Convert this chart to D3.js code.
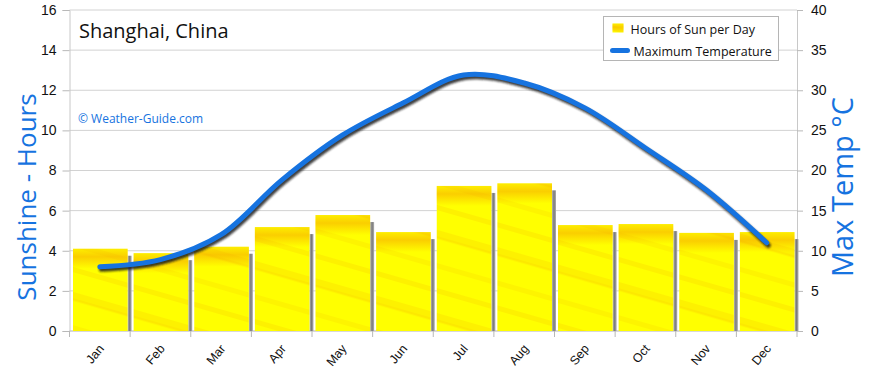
<!DOCTYPE html>
<html>
<head>
<meta charset="utf-8">
<script src="https://cdn.jsdelivr.net/npm/d3@7"></script>
<style>
  body { margin: 0; background: #fff; }
  svg { display: block; font-family: "Open Sans", "DejaVu Sans", sans-serif; }
</style>
</head>
<body>
<div id="chart"></div>
<script>
// Data
const months = ["Jan", "Feb", "Mar", "Apr", "May", "Jun", "Jul", "Aug", "Sep", "Oct", "Nov", "Dec"];
const sunHours = [4.1, 3.88, 4.2, 5.18, 5.78, 4.93, 7.23, 7.36, 5.28, 5.33, 4.89, 4.93];
const maxTemp = [8.0, 8.9, 12.0, 18.8, 24.4, 28.4, 31.9, 30.9, 27.8, 22.8, 17.6, 11.0];
const hourTicks = [0, 2, 4, 6, 8, 10, 12, 14, 16];
const tempTicks = [0, 5, 10, 15, 20, 25, 30, 35, 40];

const W = 870, H = 371;
const margin = {top: 10, right: 73, bottom: 40, left: 69.5};
const width = W - margin.left - margin.right,
    height = H - margin.top - margin.bottom;

const blue = "#1673e0";

const svg = d3.select("#chart")
    .append("svg")
    .attr("width", W)
    .attr("height", H);

const defs = svg.append("defs");

// streaky yellow texture for the bars
const pat = defs.append("pattern")
    .attr("id", "sun")
    .attr("patternUnits", "userSpaceOnUse")
    .attr("width", 400)
    .attr("height", 80)
    .attr("patternTransform", "rotate(16)");
pat.append("rect").attr("width", 400).attr("height", 80).attr("fill", "#ffff00");
[[6, 5, 0.16], [30, 8, 0.16], [36, 3, 0.1], [62, 5, 0.12]].forEach(s => {
    pat.append("rect")
        .attr("y", s[0]).attr("width", 400).attr("height", s[1])
        .attr("fill", "#f5a800").attr("opacity", s[2]);
});

const topGrad = defs.append("linearGradient")
    .attr("id", "topband").attr("x1", 0).attr("x2", 0).attr("y1", 0).attr("y2", 1);
topGrad.append("stop").attr("offset", "0%").attr("stop-color", "#f6a600").attr("stop-opacity", 0.2);
topGrad.append("stop").attr("offset", "40%").attr("stop-color", "#f6a600").attr("stop-opacity", 0.55);
topGrad.append("stop").attr("offset", "100%").attr("stop-color", "#f6a600").attr("stop-opacity", 0);

const shadowGrad = defs.append("linearGradient")
    .attr("id", "barshadow").attr("x1", 0).attr("x2", 1).attr("y1", 0).attr("y2", 0);
shadowGrad.append("stop").attr("offset", "0%").attr("stop-color", "#b5b5b5");
shadowGrad.append("stop").attr("offset", "50%").attr("stop-color", "#7a7a7a");
shadowGrad.append("stop").attr("offset", "100%").attr("stop-color", "#b0b0b0");

defs.append("filter").attr("id", "blur")
    .append("feGaussianBlur").attr("stdDeviation", 1);

const g = svg.append("g")
    .attr("transform", `translate(${margin.left},${margin.top})`);

// Scales
const xScale = d3.scaleBand()
    .domain(months)
    .range([0, width]);

const yHours = d3.scaleLinear()
    .domain([0, 16])
    .range([height, 0]);

const yTemp = d3.scaleLinear()
    .domain([0, 40])
    .range([height, 0]);

// Grid lines
g.append("g")
    .selectAll("line")
    .data(hourTicks)
    .enter().append("line")
    .attr("x1", 0).attr("x2", width)
    .attr("y1", d => yHours(d)).attr("y2", d => yHours(d))
    .attr("stroke", "#d2d2d2");

// Left axis
const leftAxis = g.append("g")
    .call(d3.axisLeft(yHours).tickValues(hourTicks).tickSize(7).tickPadding(6));
// Right axis
const rightAxis = g.append("g")
    .attr("transform", `translate(${width},0)`)
    .call(d3.axisRight(yTemp).tickValues(tempTicks).tickSize(6).tickPadding(8));
// Bottom axis
const bottomAxis = g.append("g")
    .attr("transform", `translate(0,${height})`)
    .call(d3.axisBottom(xScale).tickSize(0).tickPadding(0));

[leftAxis, rightAxis, bottomAxis].forEach(a => {
    a.select(".domain").attr("stroke", "#c8c8c8");
    a.selectAll(".tick line").attr("stroke", "#b8b8b8");
    a.selectAll("text").attr("fill", "#111").style("font-size", "14px");
});
bottomAxis.select(".domain").attr("d", `M0,0H${width}`);

// Month tick marks at band edges
g.append("g")
    .selectAll("line")
    .data(months.concat(["end"]))
    .enter().append("line")
    .attr("x1", (d, i) => i * xScale.step()).attr("x2", (d, i) => i * xScale.step())
    .attr("y1", height).attr("y2", height + 6)
    .attr("stroke", "#b8b8b8");

bottomAxis.selectAll(".tick text")
    .style("font-size", "12.5px")
    .attr("text-anchor", "end")
    .attr("dy", 0)
    .attr("transform", "translate(5,18) rotate(-50)");

// Bars
const barX = d => xScale(d) + 3.5;
const barW = xScale.bandwidth() - 6;

g.append("g")
    .selectAll("rect")
    .data(months)
    .enter().append("rect")
    .attr("x", d => barX(d) + barW)
    .attr("y", (d, i) => yHours(sunHours[i]) + 7)
    .attr("width", 4)
    .attr("height", (d, i) => height - yHours(sunHours[i]) - 7)
    .attr("fill", "url(#barshadow)");

g.append("g")
    .selectAll("rect")
    .data(months)
    .enter().append("rect")
    .attr("x", barX)
    .attr("y", (d, i) => yHours(sunHours[i]))
    .attr("width", barW)
    .attr("height", (d, i) => height - yHours(sunHours[i]))
    .attr("fill", "url(#sun)");

g.append("g")
    .selectAll("rect")
    .data(months)
    .enter().append("rect")
    .attr("x", barX)
    .attr("y", (d, i) => yHours(sunHours[i]))
    .attr("width", barW)
    .attr("height", 20)
    .attr("fill", "url(#topband)");

// Temperature line
const line = d3.line()
    .x((d, i) => xScale(months[i]) + xScale.bandwidth() / 2)
    .y(d => yTemp(d))
    .curve(d3.curveCatmullRom.alpha(0.5));

g.append("path")
    .datum(maxTemp)
    .attr("d", line)
    .attr("transform", "translate(1.5,2.5)")
    .attr("fill", "none")
    .attr("stroke", "#1a1a1a")
    .attr("stroke-width", 5)
    .attr("stroke-linecap", "round")
    .attr("opacity", 0.85)
    .attr("filter", "url(#blur)");

g.append("path")
    .datum(maxTemp)
    .attr("d", line)
    .attr("fill", "none")
    .attr("stroke", blue)
    .attr("stroke-width", 5)
    .attr("stroke-linecap", "round");

// Title and credit
svg.append("text")
    .attr("x", 79)
    .attr("y", 38)
    .style("font-size", "20px")
    .attr("fill", "#111")
    .text("Shanghai, China");

svg.append("text")
    .attr("x", 78)
    .attr("y", 123)
    .style("font-size", "12px")
    .attr("fill", blue)
    .text("© Weather-Guide.com");

// Axis titles
svg.append("text")
    .attr("transform", "rotate(-90)")
    .attr("x", -197)
    .attr("y", 36)
    .attr("text-anchor", "middle")
    .style("font-size", "26px")
    .attr("fill", blue)
    .text("Sunshine - Hours");

svg.append("text")
    .attr("transform", "rotate(-90)")
    .attr("x", -187)
    .attr("y", 853)
    .attr("text-anchor", "middle")
    .style("font-size", "29px")
    .attr("fill", blue)
    .text("Max Temp °C");

// Legend
const legend = svg.append("g")
    .attr("transform", "translate(603.5,16.5)");

legend.append("rect")
    .attr("width", 175)
    .attr("height", 44)
    .attr("fill", "#fff")
    .attr("stroke", "#b5b5b5");

legend.append("rect")
    .attr("x", 9).attr("y", 7)
    .attr("width", 11).attr("height", 9)
    .attr("fill", "url(#sun)");
legend.append("rect")
    .attr("x", 9).attr("y", 7)
    .attr("width", 11).attr("height", 9)
    .attr("fill", "url(#topband)");

legend.append("line")
    .attr("x1", 9).attr("x2", 24)
    .attr("y1", 34).attr("y2", 34)
    .attr("stroke", blue)
    .attr("stroke-width", 5)
    .attr("stroke-linecap", "round");

legend.append("text")
    .attr("x", 27).attr("y", 17)
    .style("font-size", "12.5px")
    .attr("fill", "#111")
    .text("Hours of Sun per Day");

legend.append("text")
    .attr("x", 30).attr("y", 39)
    .style("font-size", "12.5px")
    .attr("fill", "#111")
    .text("Maximum Temperature");
</script>
</body>
</html>
